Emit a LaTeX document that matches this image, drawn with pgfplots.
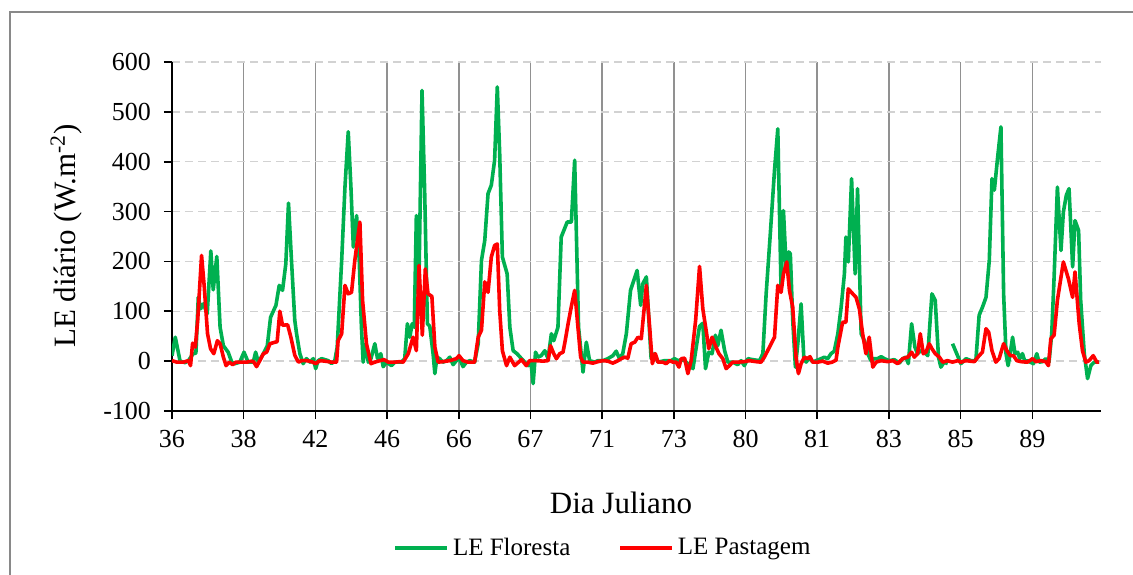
\documentclass[border=0pt]{standalone}
\usepackage{pgfplots}
\pgfplotsset{compat=1.18}
\usepackage{fontspec}
\setmainfont{Liberation Serif}
\definecolor{floresta}{RGB}{0,176,80}
\definecolor{pastagem}{RGB}{255,0,0}
\definecolor{vgrid}{RGB}{145,145,145}
\definecolor{hgrid}{RGB}{210,210,210}
\definecolor{framec}{RGB}{137,137,137}
\begin{document}
\begin{tikzpicture}
\path[use as bounding box] (-86pt,-81.5pt) rectangle (480.5pt,205.5pt);
\fill[white] (-86pt,-81.5pt) rectangle (480.5pt,205.5pt);
\draw[framec, line width=0.75pt] (-81pt,-82pt) -- (-81pt,199.5pt) -- (481pt,199.5pt);
\begin{axis}[
  at={(0,0)}, anchor=south west,
  scale only axis, width=464.5pt, height=174.5pt,
  xmin=0, xmax=311, ymin=-100, ymax=600,
  axis lines*=left,
  axis line style={line width=0.8pt, black},
  xtick={0,24,...,288},
  xticklabels={36,38,42,46,66,67,71,73,80,81,83,85,89},
  ytick={-100,0,...,600},
  yticklabels={-100,0,100,200,300,400,500,600},
  tick align=outside, major tick length=4pt,
  tick style={line width=0.8pt, black},
  xmajorgrids, ymajorgrids,
  x grid style={line width=0.75pt, vgrid},
  y grid style={line width=0.75pt, hgrid, dash pattern=on 4pt off 2.5pt},
  ticklabel style={font=\fontsize{13}{15}\selectfont},
  yticklabel style={xshift=-3pt},
  xticklabel style={yshift=-2pt},
  xlabel={Dia Juliano},
  ylabel={LE diário (W.m\textsuperscript{-2})},
  label style={font=\fontsize{15.5}{18}\selectfont},
  xlabel style={at={(axis description cs:0.4833,-0.2636)}, anchor=center},
  ylabel style={at={(axis description cs:-0.114,0.5014)}, anchor=center},
  unbounded coords=jump,
  legend columns=2,
  legend style={draw=none, fill=none, at={(axis description cs:0.465,-0.3926)}, anchor=center,
    font=\fontsize{12.5}{14}\selectfont,
    /tikz/every even column/.append style={column sep=22pt}},
  legend image code/.code={\draw[#1] (0pt,0pt) -- (26pt,0pt);},
  every axis plot/.append style={line width=1.8pt, line join=round},
]
\addplot[floresta] coordinates {
(0,11)(1.1,48)(2.7,0)(4.4,-3)(5.5,1)(7.1,15)(8.0,16)(8.8,128)(9.6,105)(10.5,115)(11.8,95)(13.0,221)(13.8,143)(15.0,210)(16.1,68)(17.2,31)(18.8,18)(20.0,-2)(21.1,-5)(22.7,-2)(24.1,18)(25.5,-2)(27.2,-2)(28.0,18)(28.9,-2)(30.6,15)(31.9,31)(33.0,88)(34.8,112)(35.9,152)(37.0,142)(38.1,195)(39.0,317)(40.0,202)(41.1,82)(41.7,55)(42.8,15)(43.9,-5)(45.0,5)(46.2,-2)(47.3,5)(48.1,-15)(48.9,1)(50.1,5)(52.3,1)(53.4,-5)(54.5,1)(55.3,28)(56.8,202)(57.9,349)(59.0,460)(59.9,349)(60.7,229)(61.8,292)(62.7,200)(63.4,70)(64.0,-2)(64.8,35)(65.7,-2)(66.6,5)(67.9,35)(68.8,5)(69.9,15)(70.7,-11)(71.8,-2)(73.5,-9)(74.6,-2)(76.8,-2)(77.9,5)(78.8,75)(79.6,48)(80.4,75)(81.1,68)(81.8,292)(82.6,135)(83.7,543)(84.6,336)(85.5,75)(86.3,70)(87.4,15)(88.0,-25)(88.7,8)(89.6,5)(90.7,-2)(91.9,1)(93.0,8)(94.1,-7)(95.2,1)(96.3,5)(97.4,-11)(98.6,-2)(99.7,1)(101.3,-2)(102.5,35)(103.6,202)(104.7,242)(105.8,336)(106.9,353)(108.0,403)(108.9,550)(109.7,416)(110.6,209)(112.2,175)(113.1,68)(114.2,21)(115.5,15)(117.0,5)(118.1,-2)(119.2,-9)(120.1,1)(120.9,-45)(121.7,18)(122.5,8)(123.6,11)(124.8,21)(125.9,5)(127.0,55)(127.8,41)(129.2,68)(130.3,249)(132.3,279)(133.7,279)(134.8,403)(136.1,68)(137.6,-22)(138.7,38)(139.8,1)(141.5,-2)(142.6,1)(144.3,1)(145.9,5)(147.6,11)(148.7,20)(149.8,5)(150.9,15)(152.1,55)(153.5,142)(154.6,162)(155.7,182)(156.9,112)(157.6,155)(158.8,169)(160.4,5)(161.5,15)(162.7,-2)(164.9,1)(167.1,1)(168.2,5)(169.4,1)(170.5,3)(171.6,1)(172.7,-5)(174.4,-15)(175.5,28)(176.6,70)(177.7,76)(178.6,-15)(179.7,18)(180.8,15)(181.9,52)(182.7,31)(183.8,62)(185.0,21)(186.1,-2)(187.7,-2)(189.4,-7)(190.5,1)(191.6,-9)(192.8,5)(194.4,3)(196.7,1)(197.8,15)(198.9,135)(200.3,256)(201.7,383)(202.8,466)(203.9,142)(204.7,302)(205.6,188)(206.5,219)(207.0,215)(207.8,82)(208.7,-12)(209.5,35)(210.6,115)(211.5,8)(212.3,-2)(213.4,8)(214.5,-2)(215.6,1)(217.3,5)(218.4,8)(219.5,5)(220.6,15)(221.7,20)(222.9,55)(224.0,108)(225.1,175)(225.6,249)(226.4,199)(227.5,366)(228.7,175)(229.5,346)(230.7,55)(231.8,41)(232.9,15)(234.0,1)(235.1,5)(236.2,5)(237.4,9)(238.5,5)(240.1,1)(241.8,3)(243.5,-4)(244.6,5)(245.7,8)(246.5,-5)(247.6,75)(248.7,28)(249.6,15)(250.7,21)(251.8,18)(253.0,11)(254.4,135)(255.5,122)(256.6,8)(257.4,-12)(258.5,-2)(259.7,-5)(260.5,nan)(261.3,35)(264.1,-5)(265.8,5)(267.5,1)(269.1,1)(270.2,92)(271.3,108)(272.5,128)(273.6,202)(274.5,366)(275.3,343)(276.4,409)(277.5,470)(278.4,135)(279.2,15)(279.9,-9)(280.6,15)(281.4,48)(282.2,15)(283.1,18)(283.8,5)(284.7,15)(285.6,-2)(286.4,1)(287.3,-2)(288.4,-5)(289.5,15)(290.3,-2)(291.4,-1)(292.5,5)(293.6,-2)(294.5,55)(295.3,169)(296.4,349)(297.6,222)(298.4,299)(299.4,333)(300.3,346)(301.5,189)(302.3,282)(303.5,262)(304.2,122)(305.4,15)(306.5,-35)(307.6,-9)(308.7,-2)(310.4,-2)
};
\addlegendentry{LE Floresta}
\addplot[pastagem] coordinates {
(0,1)(1.6,-2)(3.8,-2)(5.5,1)(6.2,-9)(6.9,36)(7.8,28)(8.6,82)(9.9,212)(10.8,149)(11.9,55)(12.9,25)(14.0,15)(15.2,41)(16.1,35)(17.2,8)(18.1,-9)(19.2,-2)(20.3,-7)(21.4,-2)(23.3,-2)(25.0,-2)(26.7,0)(27.4,-2)(28.3,-11)(29.4,1)(30.6,15)(31.7,18)(32.8,35)(34.5,38)(35.2,39)(36.1,100)(37.0,72)(38.7,73)(39.8,48)(41.1,12)(42.3,-2)(43.4,1)(45.0,1)(46.7,-1)(48.1,-5)(49.5,1)(51.2,0)(53.4,-2)(55.1,-2)(55.6,41)(56.8,55)(57.9,152)(59.0,135)(60.1,138)(61.2,202)(62.9,279)(63.8,122)(65.1,35)(66.6,-5)(67.9,-2)(69.6,1)(71.0,3)(72.4,-2)(74.6,-2)(76.3,-1)(77.4,-2)(79.1,15)(80.7,48)(81.8,21)(82.7,192)(83.8,52)(84.8,185)(85.7,135)(87.0,130)(88.0,28)(89.1,-2)(90.7,-1)(93.0,1)(95.2,5)(96.1,11)(97.4,1)(99.1,-2)(101.3,-2)(102.5,48)(103.6,62)(104.7,159)(105.8,138)(106.9,209)(108.0,232)(108.9,235)(109.7,102)(110.6,21)(112.0,-9)(113.1,8)(114.7,-9)(117.0,3)(118.6,-9)(119.7,1)(122.0,1)(124.2,0)(125.9,1)(126.7,31)(127.8,15)(128.7,5)(129.8,15)(130.9,18)(131.6,40)(132.6,75)(133.7,110)(134.8,142)(135.9,68)(136.8,8)(137.6,-2)(139.2,-2)(140.9,-4)(142.6,-1)(144.3,1)(145.9,0)(147.6,-4)(149.3,1)(150.4,5)(151.5,8)(152.6,6)(153.7,35)(154.9,38)(156.0,48)(157.1,45)(158.8,152)(159.9,68)(160.8,-5)(161.8,15)(162.7,-2)(164.3,-2)(165.4,-5)(166.6,1)(167.7,-2)(168.8,-2)(169.7,-12)(170.5,5)(171.6,6)(172.7,-25)(173.8,1)(175.3,82)(176.6,190)(177.7,105)(178.8,62)(179.7,25)(180.8,48)(181.9,31)(183.1,15)(184.4,5)(185.5,-15)(186.6,-9)(187.7,-2)(189.4,-2)(191.6,-1)(193.3,1)(195.5,-1)(197.2,-2)(198.3,8)(200.0,28)(201.7,48)(202.8,152)(203.9,138)(204.7,175)(205.8,199)(206.7,142)(207.8,108)(208.9,8)(209.7,-25)(210.6,-5)(211.7,8)(212.8,5)(213.6,9)(214.5,-2)(216.2,-2)(217.8,0)(219.5,-4)(221.0,-2)(222.3,2)(222.9,28)(224.5,78)(225.6,78)(226.4,145)(227.9,135)(229.0,128)(230.1,105)(231.2,55)(232.3,15)(233.4,48)(234.6,-12)(235.7,-2)(237.4,1)(239.6,-1)(241.3,1)(242.9,-5)(244.6,5)(246.3,8)(247.6,18)(248.5,8)(249.6,15)(250.5,55)(251.5,15)(252.4,18)(253.5,35)(254.4,25)(255.5,15)(256.9,8)(258.0,-2)(259.6,1)(261.3,-2)(263.0,1)(264.1,-2)(265.8,1)(268.6,-1)(270.2,11)(271.3,18)(272.5,65)(273.4,58)(274.5,21)(275.8,-2)(276.9,5)(278.4,35)(279.5,21)(280.6,11)(281.7,11)(282.8,1)(284.2,-1)(286.4,-2)(288.1,5)(289.2,-1)(290.9,1)(292.5,-1)(293.4,-9)(294.2,45)(295.3,52)(296.4,122)(298.4,199)(300.1,165)(301.5,128)(302.3,179)(303.7,75)(304.8,21)(305.9,-2)(307.0,1)(308.4,11)(309.6,-2)(310.4,-2)
};
\addlegendentry{LE Pastagem}
\end{axis}
\end{tikzpicture}
\end{document}
